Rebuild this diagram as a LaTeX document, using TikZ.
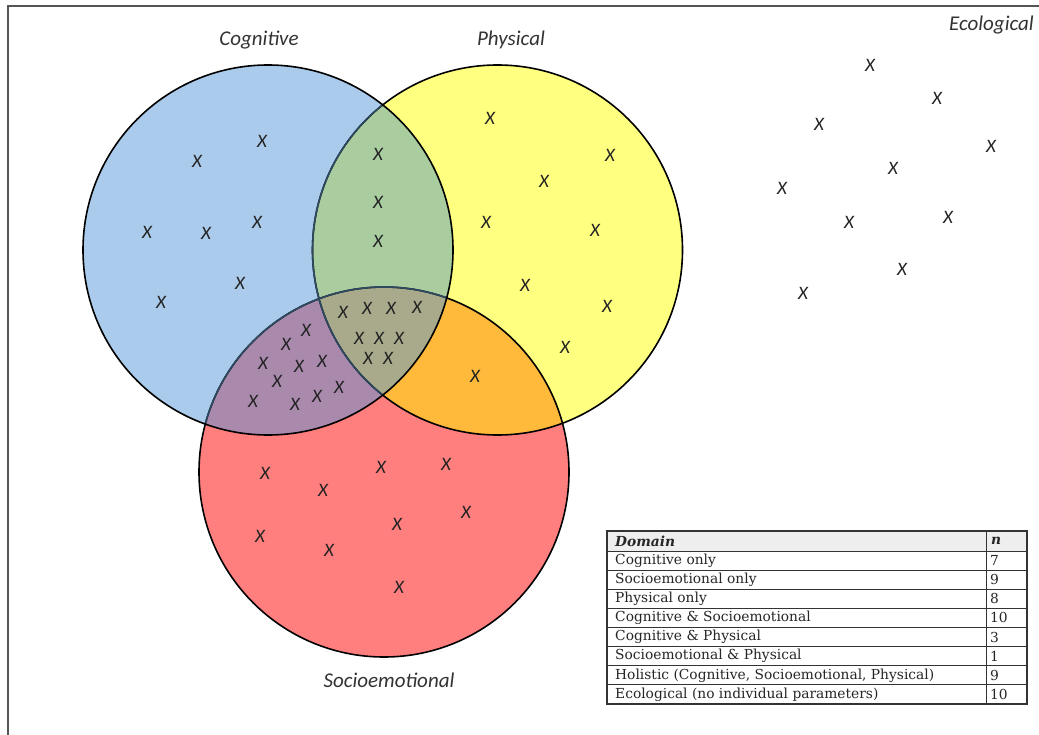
\documentclass[tikz,border=0pt]{standalone}
\usepackage{fontspec}
\newfontfamily\calfont{Carlito}
\newfontfamily\tabfont{DejaVu Serif}
\definecolor{cogblue}{HTML}{AACBEB}
\definecolor{phyyellow}{HTML}{FFFF80}
\definecolor{socred}{HTML}{FF7F7F}
\definecolor{cpgreen}{HTML}{A9CD9F}
\definecolor{cspurple}{HTML}{A98AAD}
\definecolor{psorange}{HTML}{FFBA3C}
\definecolor{triolive}{HTML}{A9A98C}
\definecolor{slateline}{HTML}{2E4A62}
\definecolor{labcol}{HTML}{333333}
\definecolor{xcol}{HTML}{222222}
\definecolor{framecol}{HTML}{555555}
\definecolor{headgray}{HTML}{EEEEEE}
\tikzset{
  xm/.style={font=\calfont\itshape\fontsize{19}{19}\selectfont, text=xcol, inner sep=0pt},
  setlabel/.style={font=\calfont\itshape\fontsize{21}{21}\selectfont, text=labcol, inner sep=0pt},
  outline/.style={line width=1.6pt, draw=black},
  tabtext/.style={font=\tabfont\fontsize{13.8}{13.8}\selectfont, text=black!85, inner sep=0pt, anchor=west},
  tabline/.style={line width=0.9pt, draw=black!80}
}
\begin{document}
\begin{tikzpicture}[x=1pt,y=-1pt]
\useasboundingbox (0,0) rectangle (1039,735);
\fill[white] (0,0) rectangle (1039,735);
% frame
\draw[framecol, line width=1.5pt] (8,760) -- (8,6) -- (1060,6);
% circle centres
\coordinate (cC) at (268,250);
\coordinate (cP) at (497.5,250);
\coordinate (cS) at (384,472);
% fills
\fill[cogblue] (cC) circle (185);
\fill[phyyellow] (cP) circle (185);
\fill[socred] (cS) circle (185);
\begin{scope}
  \clip (cP) circle (185);
  \fill[psorange] (cS) circle (185);
\end{scope}
\begin{scope}
  \clip (cC) circle (185);
  \fill[cpgreen] (cP) circle (185);
  \fill[cspurple] (cS) circle (185);
  \clip (cP) circle (185);
  \fill[triolive] (cS) circle (185);
\end{scope}
% outlines
\draw[outline] (cP) circle (185);
\draw[outline] (cS) circle (185);
\begin{scope}
  \clip (cC) circle (184);
  \draw[line width=1.6pt, slateline] (cP) circle (185);
  \draw[line width=1.6pt, slateline] (cS) circle (185);
\end{scope}
\draw[outline] (cC) circle (185);
% labels
\node[setlabel] (lcog) at (259,40) {Cognitive};
\node[setlabel] (lphy) at (511,40) {Physical};
\node[setlabel, anchor=east] (leco) at (1034,25) {Ecological};
\node[setlabel] (lsoc) at (389,680) {Socioemotional};
% X marks
\foreach \px/\py [count=\i] in {
  262/141, 197/161, 147/232, 206/233, 257/222, 240/283, 161/302,
  378/154, 378/202, 378/241,
  490/118, 610/155, 544/181, 486/222, 595/230, 525/285, 607/306, 565/347,
  343/312, 367/308, 391/308, 417/307, 359/338, 379/338, 399/338, 368/358, 388/358,
  306/330, 286/344, 263/363, 299/366, 322/361, 277/381, 253/401, 295/404, 317/396, 339/387,
  475/376,
  265/473, 323/490, 381/467, 446/464, 260/536, 329/550, 397/524, 466/512, 399/587,
  870/65, 937/98, 819/124, 991/146, 893/168, 782/188, 849/222, 948/217, 902/269, 803/293}
  \node[xm] (x\i) at (\px,\py) {X};
% table
\fill[headgray] (607,531) rectangle (1027,551);
\foreach \k in {1,...,8}
  \draw[tabline] (607,{551+19.125*(\k-1)}) -- (1027,{551+19.125*(\k-1)});
\draw[tabline] (986,531) -- (986,704);
\draw[line width=1.2pt, black!80] (607,531) rectangle (1027,704);
\node[tabtext, font=\tabfont\bfseries\itshape\fontsize{13.8}{13.8}\selectfont] (th1) at (615,541) {Domain};
\node[tabtext, font=\tabfont\bfseries\itshape\fontsize{13.8}{13.8}\selectfont] (th2) at (991,541) {n};
\foreach \t/\n [count=\k] in {
  Cognitive only/7,
  Socioemotional only/9,
  Physical only/8,
  Cognitive \& Socioemotional/10,
  Cognitive \& Physical/3,
  Socioemotional \& Physical/1,
  {Holistic (Cognitive, Socioemotional, Physical)}/9,
  Ecological (no individual parameters)/10}
{
  \node[tabtext] (tr\k) at (615,{551+19.125*(\k-0.5)}) {\t};
  \node[tabtext] (tn\k) at (990,{551+19.125*(\k-0.5)}) {\n};
}
\end{tikzpicture}
\end{document}
